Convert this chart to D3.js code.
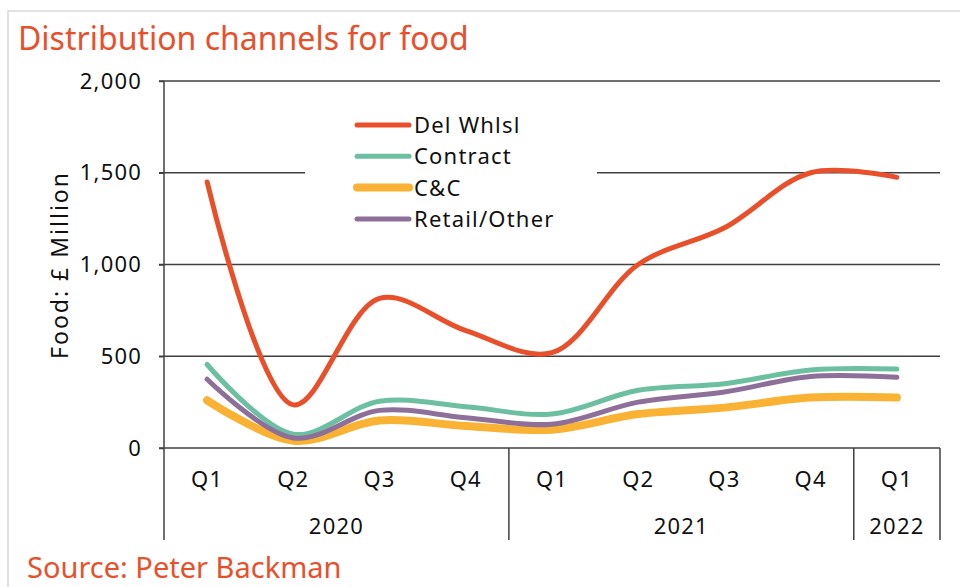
<!DOCTYPE html>
<html><head><meta charset="utf-8">
<script src="https://cdn.jsdelivr.net/npm/d3@7"></script>
<style>
body{margin:0;background:#fff;}
svg{display:block;font-family:"Noto Sans",sans-serif;}
</style></head>
<body><svg id="c" width="960" height="587"></svg>
<script>
const quarters = ["Q1","Q2","Q3","Q4","Q1","Q2","Q3","Q4","Q1"];
const years = [{label:"2020",start:0,end:4},{label:"2021",start:4,end:8},{label:"2022",start:8,end:9}];
const delWhlsl   = [1450, 235, 815, 640, 520, 1000, 1200, 1500, 1475];
const contract   = [455, 75, 255, 225, 185, 315, 350, 425, 430];
const cc         = [260, 40, 150, 120, 100, 185, 220, 275, 275];
const retail     = [375, 55, 205, 165, 130, 250, 305, 390, 385];
const yTicks = [0, 500, 1000, 1500, 2000];
const seriesNames = ["Del Whlsl","Contract","C&C","Retail/Other"];

const series = [
  {name:seriesNames[0], values:delWhlsl, color:"#E8502B", width:5},
  {name:seriesNames[1], values:contract, color:"#6DBFA2", width:5},
  {name:seriesNames[2], values:cc, color:"#F9B233", width:8},
  {name:seriesNames[3], values:retail, color:"#8E6F9A", width:5}
];

const svg = d3.select("#c");
const L=164, R=940, T=81, B=448;
const x = d3.scaleBand().domain(d3.range(quarters.length)).range([L,R]);
const y = d3.scaleLinear().domain([0,2000]).range([B,T]);

// outer frame
svg.append("rect").attr("x",8).attr("y",11).attr("width",960).attr("height",600)
  .attr("fill","none").attr("stroke","#d9d9d9").attr("stroke-width",1.5);

// title
svg.append("text").attr("x",18).attr("y",50).attr("fill","#E8502B")
  .attr("font-size",32).text("Distribution channels for food");

// gridlines
const grid = svg.append("g");
yTicks.forEach(t=>{
  grid.append("line").attr("x1",L-5).attr("x2",R).attr("y1",y(t)).attr("y2",y(t))
    .attr("stroke","#404040").attr("stroke-width",1.5);
});

// y axis
const yAxis = d3.axisLeft(y).tickValues(yTicks).tickFormat(d3.format(",")).tickSize(5).tickPadding(17);
const yg = svg.append("g").attr("transform",`translate(${L},0)`).call(yAxis);
yg.select(".domain").remove();
yg.selectAll("line").attr("stroke","#404040").attr("stroke-width",1.5);
yg.selectAll("text").attr("font-size",22).attr("letter-spacing",1.2).attr("fill","#111").attr("font-family","Noto Sans");

// left axis line
svg.append("line").attr("x1",L).attr("x2",L).attr("y1",T).attr("y2",540)
  .attr("stroke","#404040").attr("stroke-width",1.5);

// y label
svg.append("text").attr("transform","translate(68,265) rotate(-90)")
  .attr("text-anchor","middle").attr("font-size",23).attr("letter-spacing",2).attr("fill","#111").text("Food: £ Million");

// x axis quarters
quarters.forEach((q,i)=>{
  svg.append("text").attr("x",x(i)+x.bandwidth()/2).attr("y",487).attr("text-anchor","middle")
    .attr("font-size",22).attr("letter-spacing",1.2).attr("fill","#111").text(q);
});
// year groups
years.forEach(yr=>{
  const x0 = x(yr.start), x1 = yr.end<quarters.length ? x(yr.end) : R;
  svg.append("text").attr("x",(x0+x1)/2).attr("y",534).attr("text-anchor","middle")
    .attr("font-size",22).attr("letter-spacing",1.2).attr("fill","#111").text(yr.label);
  svg.append("line").attr("x1",x1).attr("x2",x1).attr("y1",B).attr("y2",540)
    .attr("stroke","#404040").attr("stroke-width",1.5);
});

// legend background
svg.append("rect").attr("x",305).attr("y",105).attr("width",292).attr("height",130).attr("fill","#fff");

// lines
const line = d3.line().x((d,i)=>x(i)+x.bandwidth()/2).y(d=>y(d)).curve(d3.curveCatmullRom.alpha(0.5));
series.forEach(s=>{
  svg.append("path").datum(s.values).attr("d",line).attr("fill","none")
    .attr("stroke",s.color).attr("stroke-width",s.width).attr("stroke-linecap","round").attr("stroke-linejoin","round");
});

// legend
series.forEach((s,i)=>{
  const yy = 125 + i*31.3;
  svg.append("line").attr("x1",357).attr("x2",409).attr("y1",yy).attr("y2",yy)
    .attr("stroke",s.color).attr("stroke-width",s.width).attr("stroke-linecap","round");
  svg.append("text").attr("x",414).attr("y",yy+8).attr("font-size",22).attr("letter-spacing",1.2).attr("fill","#111").text(s.name);
});

// source
svg.append("text").attr("x",27).attr("y",578).attr("fill","#E8502B").attr("font-size",29).text("Source: Peter Backman");
</script></body></html>
